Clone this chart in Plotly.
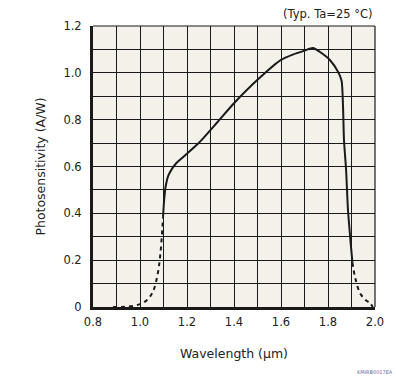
import plotly.graph_objects as go

# Data
left_dash_x = [0.885, 0.92, 0.96, 1.00, 1.03, 1.055, 1.075, 1.085, 1.092, 1.098]
left_dash_y = [0.0, 0.0, 0.003, 0.012, 0.03, 0.065, 0.14, 0.21, 0.29, 0.385]

solid_x = [1.098, 1.103, 1.110, 1.120, 1.136, 1.155, 1.183, 1.25, 1.33, 1.40, 1.50, 1.60,
           1.65, 1.70, 1.736, 1.766, 1.808, 1.843, 1.858, 1.864, 1.868, 1.877, 1.885, 1.898, 1.904]
solid_y = [0.385, 0.46, 0.52, 0.56, 0.59, 0.615, 0.64, 0.70, 0.79, 0.87, 0.97, 1.055,
           1.078, 1.095, 1.106, 1.089, 1.055, 1.004, 0.965, 0.854, 0.713, 0.585, 0.414, 0.256, 0.19]

right_dash_x = [1.904, 1.915, 1.936, 1.96, 1.979, 1.99]
right_dash_y = [0.19, 0.128, 0.06, 0.03, 0.017, 0.0]

x_ticks = [0.8, 1.0, 1.2, 1.4, 1.6, 1.8, 2.0]
x_tick_labels = ["0.8", "1.0", "1.2", "1.4", "1.6", "1.8", "2.0"]
y_ticks = [0, 0.2, 0.4, 0.6, 0.8, 1.0, 1.2]
y_tick_labels = ["0", "0.2", "0.4", "0.6", "0.8", "1.0", "1.2"]

FONT = "DejaVu Sans"
INK = "#1a1a1a"

fig = go.Figure()
fig.add_trace(go.Scatter(x=left_dash_x, y=left_dash_y, mode="lines",
                         line=dict(color=INK, width=2, dash="4px,4px", shape="spline"),
                         showlegend=False, hoverinfo="skip"))
fig.add_trace(go.Scatter(x=solid_x, y=solid_y, mode="lines",
                         line=dict(color=INK, width=2, shape="spline", smoothing=0.6),
                         showlegend=False, hoverinfo="skip"))
fig.add_trace(go.Scatter(x=right_dash_x, y=right_dash_y, mode="lines",
                         line=dict(color=INK, width=2, dash="4px,4px", shape="spline"),
                         showlegend=False, hoverinfo="skip"))

grid = dict(showgrid=True, gridcolor=INK, gridwidth=1.2)
fig.update_xaxes(range=[0.8, 2.0], tickvals=x_ticks, ticktext=x_tick_labels,
                 showgrid=False, zeroline=False, showline=True, linecolor=INK, linewidth=3,
                 ticks="", ticklabelstandoff=2,
                 minor=dict(dtick=0.1, tick0=0.8, **grid),
                 tickfont=dict(family=FONT, size=11.5, color="#222"),
                 title=dict(text="Wavelength (µm)", font=dict(family=FONT, size=12.5, color="#222"),
                            standoff=22))
fig.update_yaxes(range=[0, 1.2], tickvals=y_ticks, ticktext=y_tick_labels,
                 showgrid=False, zeroline=False, showline=True, linecolor=INK, linewidth=3,
                 ticks="", ticklabelstandoff=6,
                 minor=dict(dtick=0.1, tick0=0, **grid),
                 tickfont=dict(family=FONT, size=11.5, color="#222"),
                 title=dict(text="Photosensitivity (A/W)", font=dict(family=FONT, size=12.5, color="#222"),
                            standoff=16))

fig.add_shape(type="line", xref="paper", yref="paper", x0=0, x1=1, y0=1, y1=1,
              line=dict(color=INK, width=1.2))
fig.add_shape(type="line", xref="paper", yref="paper", x0=1, x1=1, y0=0, y1=1,
              line=dict(color=INK, width=1.2))

fig.add_annotation(text="(Typ. Ta=25 °C)", xref="paper", yref="paper", x=1.0, y=1.0,
                   xanchor="right", yanchor="bottom", showarrow=False, yshift=3,
                   font=dict(family=FONT, size=11.5, color="#222"))
fig.add_annotation(text="KMIRB0017EA", xref="paper", yref="paper", x=1.072, y=-0.233,
                   xanchor="right", yanchor="middle", showarrow=False,
                   font=dict(family=FONT, size=5, color="#5a6fa0"))

fig.update_layout(width=396, height=380, margin=dict(l=93, r=21, t=26, b=73),
                  plot_bgcolor="#f4f1ea", paper_bgcolor="white")

fig.write_html("out.html", config={"displayModeBar": False},
               post_script="document.body.style.margin='0';")
